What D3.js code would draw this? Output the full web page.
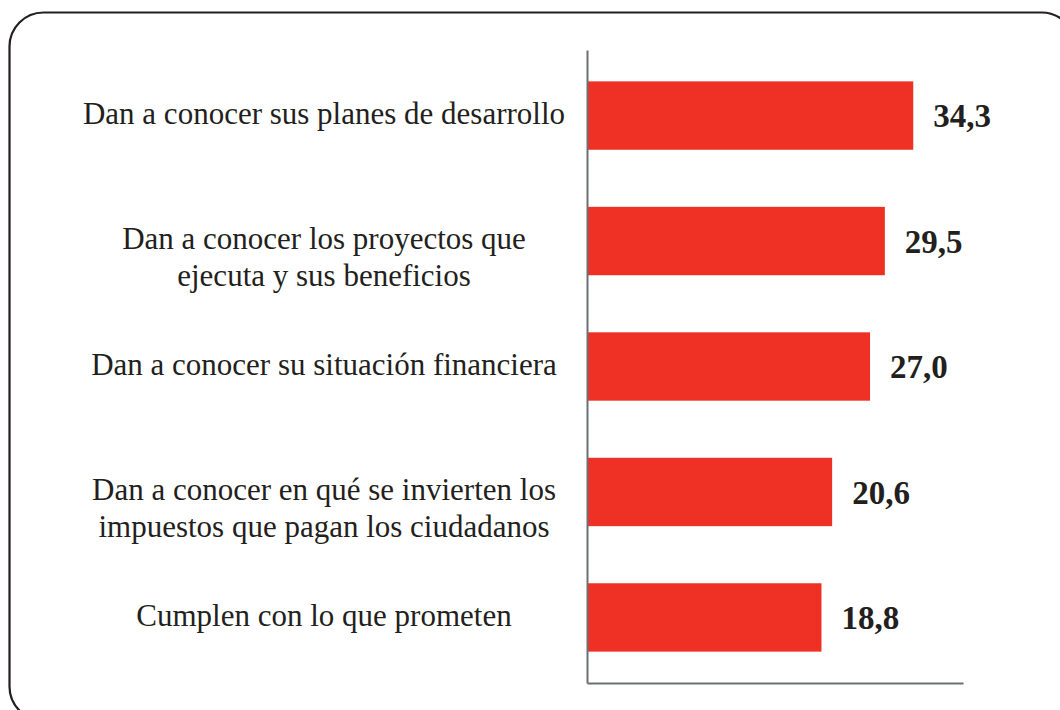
<!DOCTYPE html>
<html>
<head>
<meta charset="utf-8">
<script src="https://cdn.jsdelivr.net/npm/d3@7"></script>
<style>
  body { margin: 0; background: #fff; }
  svg { display: block; }
  .cat, .val { font-family: "Liberation Serif", "Times New Roman", Times, serif; }
</style>
</head>
<body>
<svg width="1060" height="710"></svg>
<script>
// categories, top to bottom (each entry = lines of the label)
var categories = [
    ["Dan a conocer sus planes de desarrollo"],
    ["Dan a conocer los proyectos que", "ejecuta y sus beneficios"],
    ["Dan a conocer su situación financiera"],
    ["Dan a conocer en qué se invierten los", "impuestos que pagan los ciudadanos"],
    ["Cumplen con lo que prometen"]
];
var values = [34.3, 29.5, 27.0, 20.6, 18.8];
var valueLabels = ["34,3", "29,5", "27,0", "20,6", "18,8"];
// the original axis does not start at zero
var xDomain = [-20.8, 42.7];

var svg = d3.select("svg"),
    plotLeft = 587,
    plotRight = 963,
    plotTop = 50,
    plotBottom = 683;

// rounded frame, runs past the right / bottom edge
svg.append("rect")
    .attr("x", 9.5).attr("y", 12.5)
    .attr("width", 1066).attr("height", 708)
    .attr("rx", 34).attr("ry", 34)
    .attr("fill", "none")
    .attr("stroke", "#231f20")
    .attr("stroke-width", 2.2);

var x = d3.scaleLinear().domain(xDomain).range([plotLeft, plotRight]);
var y = d3.scaleBand()
    .domain(d3.range(values.length))
    .range([plotTop, plotBottom])
    .paddingInner(0.455)
    .paddingOuter(0.25);

var g = svg.append("g");

g.selectAll("rect.bar")
    .data(values)
    .enter().append("rect")
    .attr("class", "bar")
    .attr("x", x(xDomain[0]))
    .attr("y", function(d, i) { return y(i); })
    .attr("width", function(d) { return x(d) - x(xDomain[0]); })
    .attr("height", y.bandwidth())
    .attr("fill", "#ee3124");

g.selectAll("text.val")
    .data(values)
    .enter().append("text")
    .attr("class", "val")
    .attr("x", function(d) { return x(d) + 20; })
    .attr("y", function(d, i) { return y(i) + y.bandwidth() / 2; })
    .attr("dy", "0.35em")
    .style("font-weight", "bold")
    .style("font-size", "33px")
    .attr("fill", "#231f20")
    .text(function(d, i) { return valueLabels[i]; });

var lab = g.selectAll("text.cat")
    .data(categories)
    .enter().append("text")
    .attr("class", "cat")
    .attr("x", 324)
    .attr("y", function(d, i) { return y(i) + y.bandwidth() / 2 - 2; })
    .attr("text-anchor", "middle")
    .style("font-size", "31px")
    .attr("fill", "#231f20");

lab.selectAll("tspan")
    .data(function(d) { return d; })
    .enter().append("tspan")
    .attr("x", 324)
    .attr("dy", function(d, i) { return i === 0 ? "0.33em" : "37px"; })
    .text(function(d) { return d; });

// axes lines (no ticks)
var axisY = d3.axisLeft(y).tickSize(0).tickFormat("");
svg.append("g")
    .attr("transform", "translate(" + plotLeft + ",0)")
    .call(axisY)
    .select(".domain")
    .attr("stroke", "#6d6e71")
    .attr("stroke-width", 2);

var axisX = d3.axisBottom(x).tickValues([]).tickSizeOuter(0);
svg.append("g")
    .attr("transform", "translate(0," + plotBottom + ")")
    .call(axisX)
    .select(".domain")
    .attr("stroke", "#6d6e71")
    .attr("stroke-width", 2);
</script>
</body>
</html>
